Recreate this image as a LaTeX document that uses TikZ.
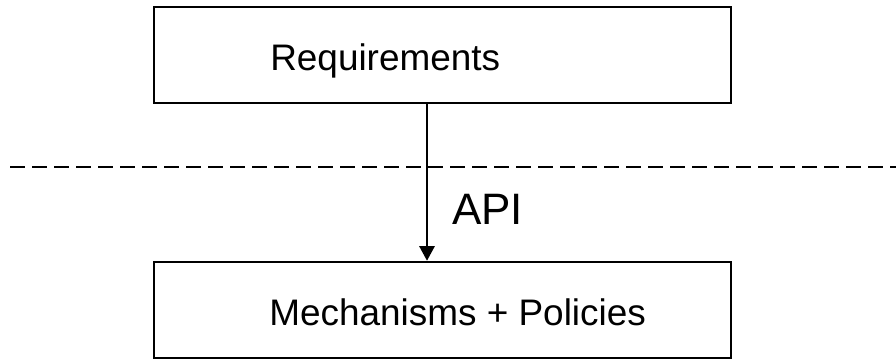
\documentclass[tikz,border=0pt]{standalone}
\usepackage{fontspec}
\setmainfont{Liberation Sans}
\usepackage{tikz}
\usetikzlibrary{arrows.meta}
\usetikzlibrary{positioning}

\begin{document}
\begin{tikzpicture}[x=0.75pt,y=-0.75pt,>={Triangle[width=11.5pt,length=11pt]},
                    main box/.style={rectangle,draw,line width=1.9pt,inner sep=0pt,
                                     minimum width=432.75pt,minimum height=72pt},
                    box text/.style={anchor=base west,inner sep=0pt,font=\fontsize{27.7}{33}\selectfont},
                    api text/.style={anchor=base west,inner sep=0pt,font=\fontsize{33}{40}\selectfont}]

\useasboundingbox (0,0) rectangle (896,360);

\node[main box] (R) at (442.5,55) {};
\node[main box] (M) at (442.5,310) {};

\node[box text] (Rtext) at (270,70) {Requirements};
\node[box text] (Mtext) at (269,325) {Mechanisms + Policies};
\node[api text] (API) at (452,224) {API};

\coordinate (Ax) at (427,0);
\coordinate (DL) at (10,167);
\coordinate (DR) at (896,167);

\draw[->,line width=1.5pt] (R.south -| Ax) -- (M.north -| Ax);
\draw[line width=1.4pt,dash pattern=on 11.25pt off 5.25pt] (DL) -- (DR);
\end{tikzpicture}
\end{document}
